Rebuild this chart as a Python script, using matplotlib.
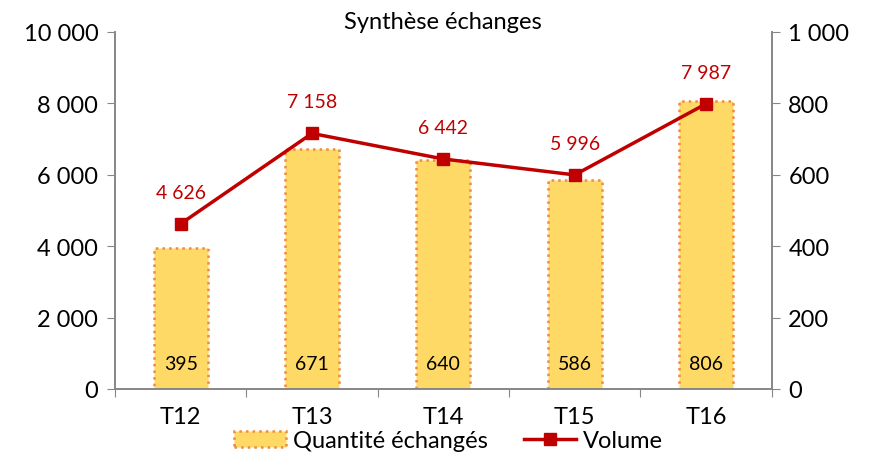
import matplotlib.pyplot as plt
from matplotlib.lines import Line2D
from matplotlib.patches import Patch
import numpy as np

plt.rcParams['font.family'] = ['Lato', 'DejaVu Sans']

# données
trimestres = ['T12', 'T13', 'T14', 'T15', 'T16']
quantite = [395, 671, 640, 586, 806]
volume = [4626, 7158, 6442, 5996, 7987]


def fmt_espace(v, pos=None):
    return f'{int(v):,}'.replace(',', ' ')


fig = plt.figure(figsize=(8.71, 4.64), dpi=100)
ax = fig.add_axes([0.132, 0.1595, 0.754, 0.7695])
ax2 = ax.twinx()

x = np.arange(len(trimestres))
gris = '#868686'

# barres sur l'axe de droite
ax2.bar(x, quantite, width=0.41, color='#FFD966', edgecolor='#F08A3C',
        linestyle=':', linewidth=1.8, zorder=1)
for xi, q in zip(x, quantite):
    ax2.text(xi, 70, str(q), ha='center', va='center', fontsize=14, color='black')

# courbe sur l'axe de gauche (au premier plan)
ax.set_zorder(ax2.get_zorder() + 1)
ax.patch.set_visible(False)
ax.plot(x, volume, color='#C00000', linewidth=2.5, marker='s', markersize=9, zorder=3)
for xi, v in zip(x, volume):
    ax.text(xi, v + 650, fmt_espace(v), ha='center', va='bottom', fontsize=14, color='#C00000')

ax.set_xlim(-0.5, len(trimestres) - 0.5)
ax.set_ylim(0, 10000)
ax2.set_ylim(0, 1000)
ax.set_yticks(np.arange(0, 10001, 2000))
ax2.set_yticks(np.arange(0, 1001, 200))
ax.yaxis.set_major_formatter(plt.FuncFormatter(fmt_espace))
ax2.yaxis.set_major_formatter(plt.FuncFormatter(fmt_espace))

# ticks de catégories entre les barres
ax.set_xticks(np.arange(-0.5, len(trimestres), 1))
ax.set_xticklabels([])
ax.set_xticks(x, minor=True)
ax.set_xticklabels(trimestres, minor=True)
ax.tick_params(axis='x', which='minor', length=0, labelsize=17, pad=12)
ax.tick_params(axis='x', which='major', length=6, color=gris)

ax.tick_params(axis='y', labelsize=17, length=6, color=gris, pad=6)
ax2.tick_params(axis='y', labelsize=17, length=6, color=gris, pad=6)

for a in (ax, ax2):
    a.spines['top'].set_visible(False)
    for s in ('left', 'right', 'bottom'):
        a.spines[s].set_color(gris)
        a.spines[s].set_linewidth(1.2)

ax.set_title('Synthèse échanges', fontsize=17, pad=3)

handles = [
    Patch(facecolor='#FFD966', edgecolor='#F08A3C', linestyle=':', linewidth=1.8),
    Line2D([0], [0], color='#C00000', linewidth=2.5, marker='s', markersize=9),
]
fig.legend(handles, ['Quantité échangés', 'Volume'], loc='lower center',
           bbox_to_anchor=(0.515, -0.02), ncol=2, frameon=False, fontsize=17,
           handlelength=2.2, handletextpad=0.3, columnspacing=1.5)

plt.savefig('out.png', dpi=100)
